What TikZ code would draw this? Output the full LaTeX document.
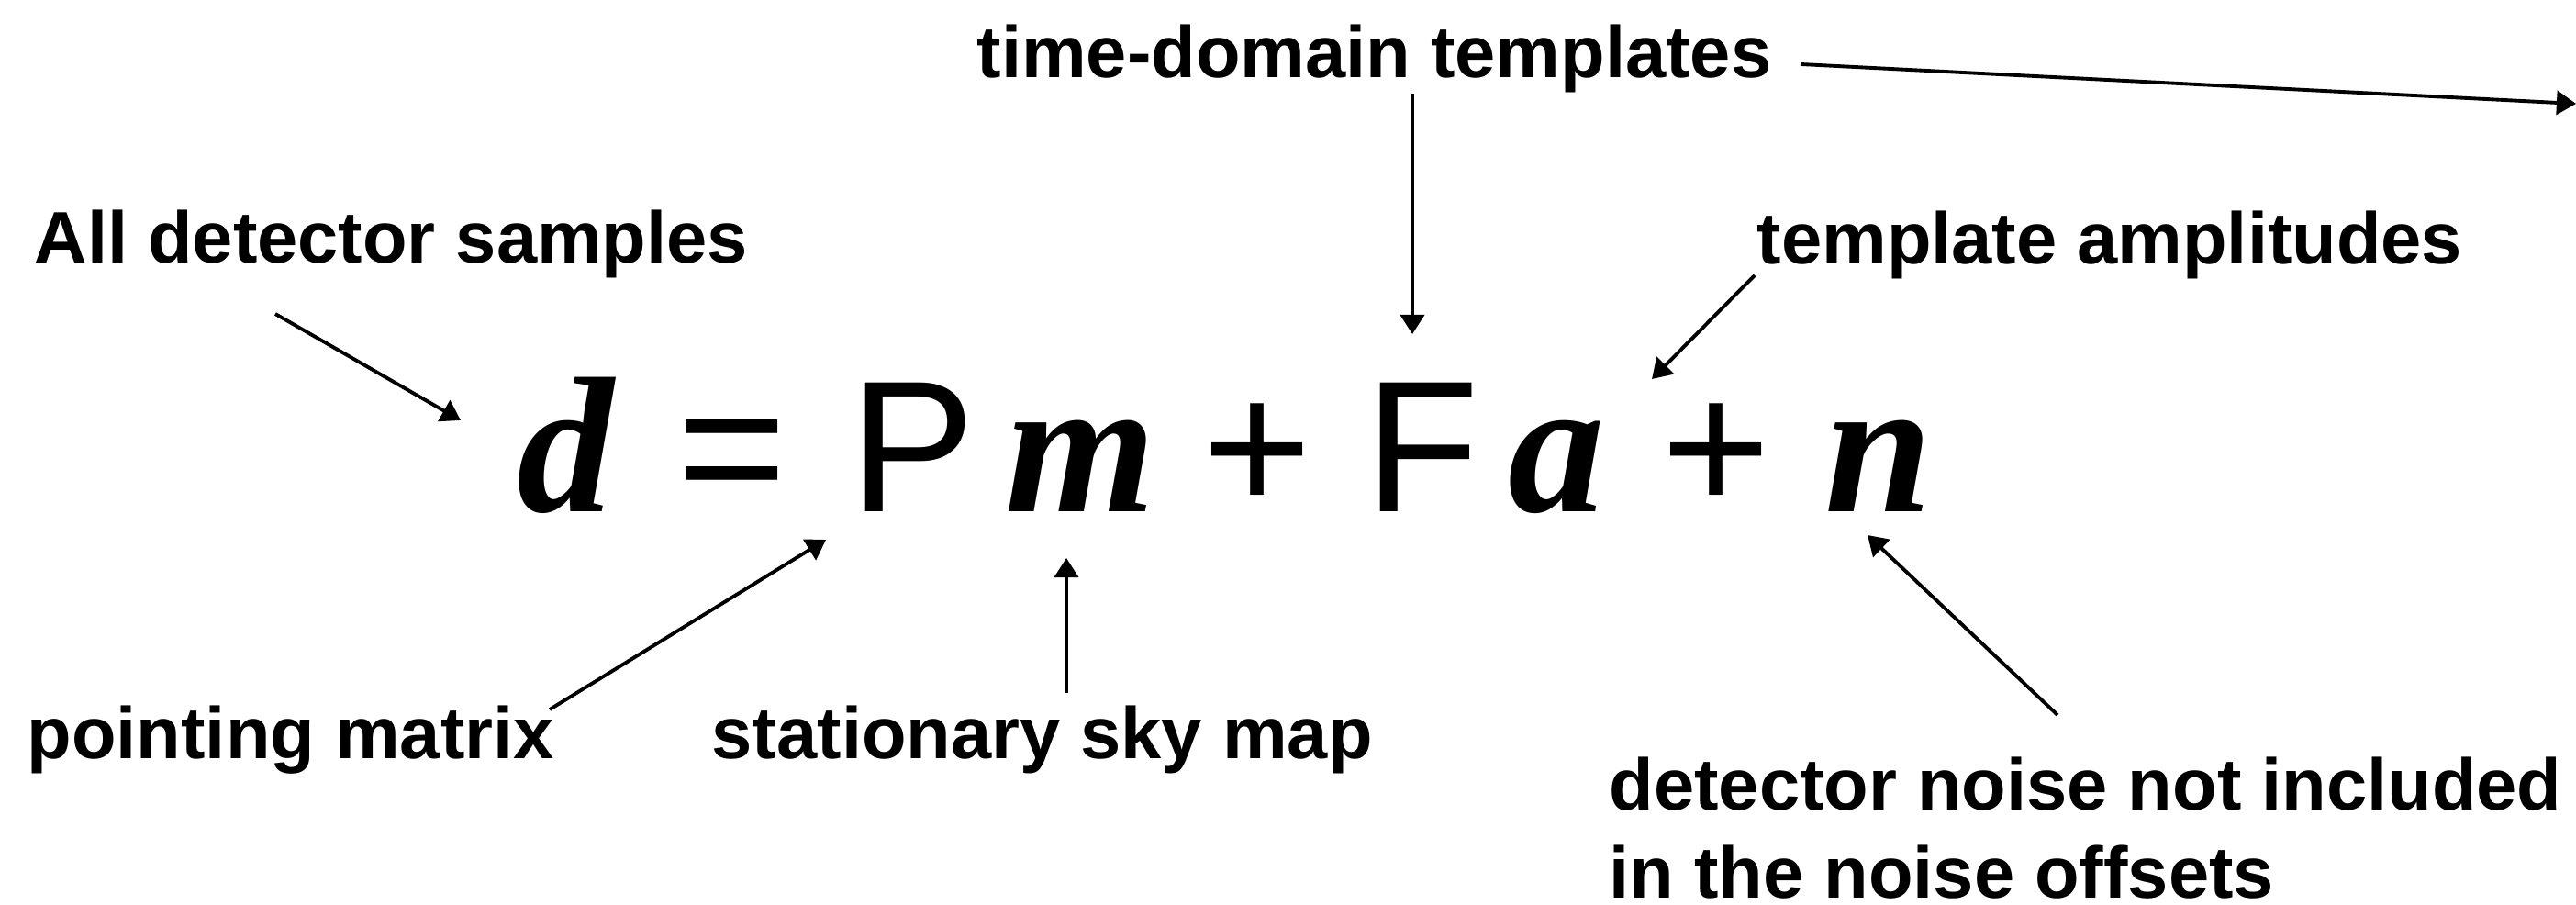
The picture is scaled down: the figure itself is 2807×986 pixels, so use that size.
\documentclass[tikz,border=0pt]{standalone}
\usepackage{fontspec}
\setmainfont{Liberation Sans}
\newfontfamily\eqserif{Liberation Serif}
\usetikzlibrary{arrows.meta}

\begin{document}
\begin{tikzpicture}[x=0.01cm, y=-0.01cm,
    lbl/.style={inner sep=0, anchor=base west, font=\fontsize{22.6}{28}\selectfont\bfseries},
    sym/.style={inner sep=0, anchor=base, font=\fontsize{58}{60}\selectfont},
    var/.style={inner sep=0, anchor=base, font=\fontsize{60}{62}\eqserif\bfseries\itshape\selectfont},
    pointer/.style={-{Triangle[length=6pt,width=7.4pt]}, line width=1.1pt}]
    \useasboundingbox (0,0) rectangle (2807,986);
    \node[var] (vd) at (616,558) {d};
    \node[sym] (eq) at (798,558) {=};
    \node[sym] (mP) at (995,558) {P};
    \node[var] (vm) at (1178,558) {m};
    \node[sym] (plusA) at (1370,558) {+};
    \node[sym] (mF) at (1550,558) {F};
    \node[var] (va) at (1696,558) {a};
    \node[sym] (plusB) at (1870,558) {+};
    \node[var] (vn) at (2047,558) {n};
    \node[lbl] (lblTime) at (1064,85) {time-domain templates};
    \node[lbl] (lblAll) at (37,287) {All detector samples};
    \node[lbl] (lblAmp) at (1914,288) {template amplitudes};
    \node[lbl] (lblPoint) at (29,827) {pointing matrix};
    \node[lbl] (lblSky) at (775,827) {stationary sky map};
    \node[lbl] (lblNoise) at (1753,882) {detector noise not included};
    \node[lbl] (lblNoiseB) at (1753,978) {in the noise offsets};
    \coordinate (allTail) at (300,342);
    \coordinate (allTip) at (502,458);
    \coordinate (timeTail) at (1539,102);
    \coordinate (timeTip) at (1539,364);
    \coordinate (outTail) at (1962,70);
    \coordinate (outTip) at (2807,113);
    \coordinate (ampTail) at (1912,300);
    \coordinate (ampTip) at (1800,413);
    \coordinate (pointTail) at (599,773);
    \coordinate (pointTip) at (900,588);
    \coordinate (skyTail) at (1162,755);
    \coordinate (skyTip) at (1162,608);
    \coordinate (noiseTail) at (2242,779);
    \coordinate (noiseTip) at (2035,583);
    \draw[pointer] (allTail) -- (allTip);
    \draw[pointer] (timeTail) -- (timeTip);
    \draw[pointer] (outTail) -- (outTip);
    \draw[pointer] (ampTail) -- (ampTip);
    \draw[pointer] (pointTail) -- (pointTip);
    \draw[pointer] (skyTail) -- (skyTip);
    \draw[pointer] (noiseTail) -- (noiseTip);
\end{tikzpicture}
\end{document}
